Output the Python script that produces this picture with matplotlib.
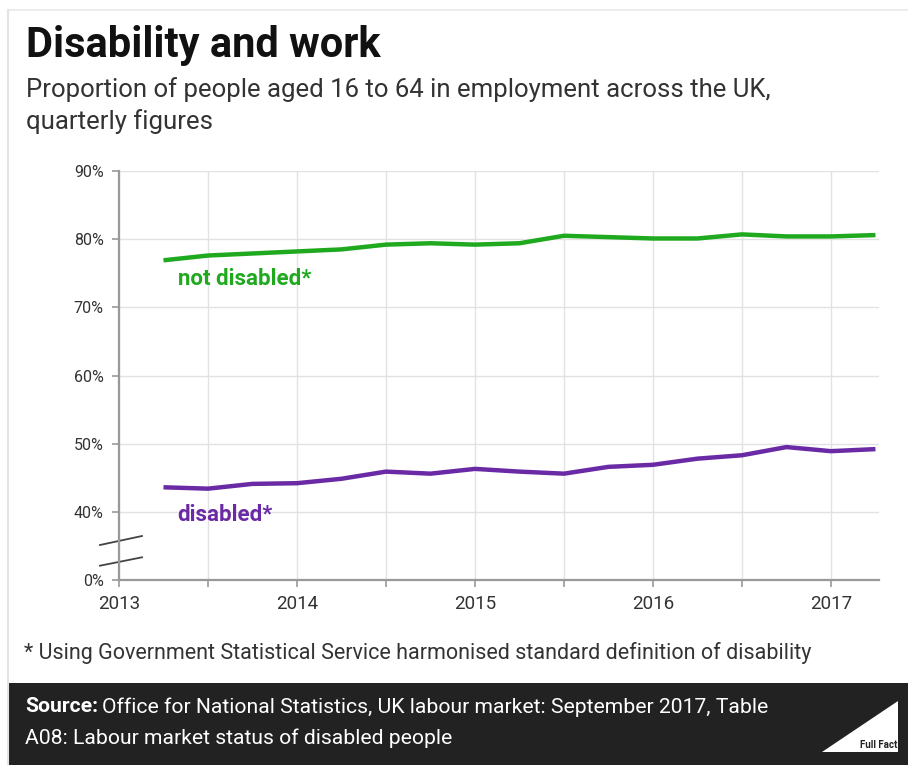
import matplotlib.pyplot as plt
from matplotlib.patches import Rectangle, Polygon
from matplotlib.lines import Line2D

plt.rcParams['font.family'] = ['Roboto', 'DejaVu Sans']

# ==================== data ====================
# quarterly points, Apr-Jun 2013 .. Apr-Jun 2017
quarters = [2013.25, 2013.5, 2013.75, 2014.0, 2014.25, 2014.5, 2014.75,
            2015.0, 2015.25, 2015.5, 2015.75, 2016.0, 2016.25, 2016.5,
            2016.75, 2017.0, 2017.25]
not_disabled = [76.9, 77.6, 77.9, 78.2, 78.5, 79.2, 79.4, 79.2, 79.4,
                80.5, 80.3, 80.1, 80.1, 80.7, 80.4, 80.4, 80.6]
disabled = [43.6, 43.4, 44.1, 44.2, 44.85, 45.9, 45.6, 46.3, 45.9,
            45.6, 46.6, 46.9, 47.8, 48.3, 49.5, 48.9, 49.2]
year_ticks = [2013, 2014, 2015, 2016, 2017]
half_ticks = [2013.5, 2014.5, 2015.5, 2016.5]
y_ticks = [30, 40, 50, 60, 70, 80, 90]
y_labels = ['0%', '40%', '50%', '60%', '70%', '80%', '90%']

GREEN = '#1fa91f'
PURPLE = '#6a2aa6'
W, H = 908, 765


def fx(x):
    return x / W


def fy(y):
    return 1 - y / H


fig = plt.figure(figsize=(W / 100, H / 100), dpi=100)

# frame + footer band
fig.add_artist(Line2D([fx(8), 1], [fy(10), fy(10)], color='#ececec', lw=1.5))
fig.add_artist(Line2D([fx(8), fx(8)], [fy(10), 0], color='#e4e4e4', lw=1.5))
fig.add_artist(Rectangle((fx(9), 0), 1, fy(683), color='#222222', lw=0))

# ==================== titles ====================
fig.text(fx(26), fy(45), 'Disability and work', fontsize=30, fontweight='bold',
         color='#111111', va='center')
fig.text(fx(26), fy(90), 'Proportion of people aged 16 to 64 in employment across the UK,',
         fontsize=18.5, color='#333333', va='center')
fig.text(fx(26), fy(122), 'quarterly figures', fontsize=18.5, color='#333333', va='center')

# ==================== chart ====================
ax = fig.add_axes([fx(119), fy(580), fx(879) - fx(119), fy(171) - fy(580)])
ax.plot(quarters, not_disabled, color=GREEN, lw=3.2, solid_capstyle='butt')
ax.plot(quarters, disabled, color=PURPLE, lw=3.2, solid_capstyle='butt')

ax.set_xlim(2013, 2017.27)
ax.set_ylim(30, 90)
ax.set_xticks(year_ticks + half_ticks)
ax.set_xticklabels([str(y) for y in year_ticks] + [''] * len(half_ticks))
ax.set_yticks(y_ticks)
ax.set_yticklabels(y_labels)
ax.tick_params(axis='both', colors='#999999', labelcolor='#333333',
               length=5, width=1.2)
ax.tick_params(axis='x', pad=6, labelsize=13.5)
ax.tick_params(axis='y', pad=6, labelsize=11.5)

ax.grid(True, color='#e2e2e2', lw=1)
ax.set_axisbelow(True)
for s in ['top', 'right']:
    ax.spines[s].set_visible(False)
for s in ['left', 'bottom']:
    ax.spines[s].set_color('#999999')
    ax.spines[s].set_linewidth(1.6)

ax.text(2013.33, 74.1, 'not disabled*', color=GREEN, fontsize=16, fontweight='bold',
        va='center', ha='left')
ax.text(2013.33, 39.6, 'disabled*', color=PURPLE, fontsize=16, fontweight='bold',
        va='center', ha='left')

# axis break marks
for y0, y1 in [(545, 536), (565.7, 557.3)]:
    ax.add_line(Line2D([(100 - 119) / 760, (142 - 119) / 760],
                       [(580 - y0) / 409, (580 - y1) / 409],
                       transform=ax.transAxes, color='#444444', lw=1.3, clip_on=False))

# ==================== notes / footer ====================
fig.text(fx(24), fy(653),
         '* Using Government Statistical Service harmonised standard definition of disability',
         fontsize=15.5, color='#333333', va='center')

src = fig.text(fx(25), fy(707), 'Source:', fontsize=15.2, fontweight='bold',
               color='white', va='center')
r = fig.canvas.get_renderer()
bb = src.get_window_extent(renderer=r)
fig.text(bb.x1 / W + fx(4),
         fy(707), 'Office for National Statistics, UK labour market: September 2017, Table',
         fontsize=15.2, color='white', va='center')
fig.text(fx(25), fy(738), 'A08: Labour market status of disabled people',
         fontsize=15.2, color='white', va='center')

# logo
fig.add_artist(Polygon([[fx(822), fy(752)], [fx(898), fy(752)], [fx(898), fy(701)]],
                       closed=True, color='white', lw=0))
fig.text(fx(897), fy(745), 'Full Fact', fontsize=7, fontweight='bold',
         color='#222222', ha='right', va='center')

fig.savefig('out.png', dpi=100)
